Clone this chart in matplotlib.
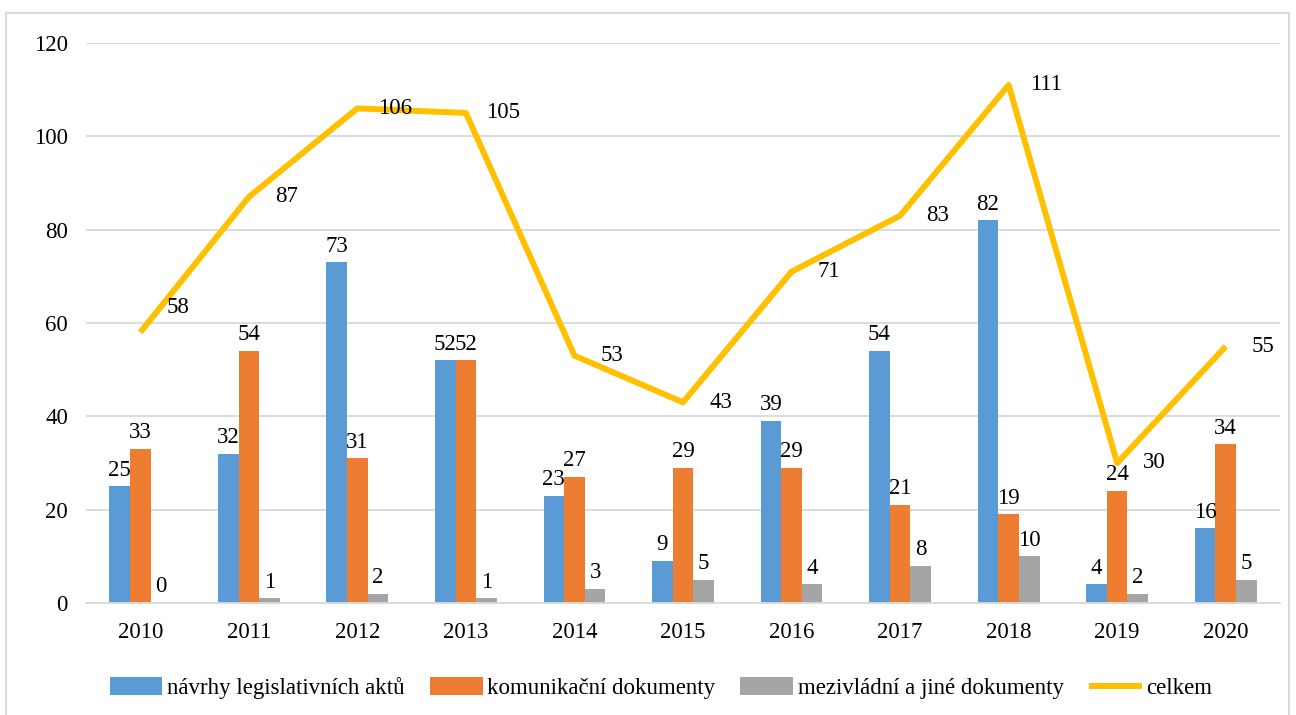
import matplotlib
matplotlib.use("Agg")
import matplotlib.pyplot as plt
import numpy as np
from matplotlib.patches import Rectangle

years = ["2010", "2011", "2012", "2013", "2014", "2015", "2016", "2017", "2018", "2019", "2020"]
legislativni = [25, 32, 73, 52, 23, 9, 39, 54, 82, 4, 16]
komunikacni = [33, 54, 31, 52, 27, 29, 29, 21, 19, 24, 34]
mezivladni = [0, 1, 2, 1, 3, 5, 4, 8, 10, 2, 5]
celkem = [58, 87, 106, 105, 53, 43, 71, 83, 111, 30, 55]

series_names = ["návrhy legislativních aktů", "komunikační dokumenty",
                "mezivládní a jiné dokumenty", "celkem"]

plt.rcParams['font.family'] = ['Liberation Serif', 'DejaVu Serif']
FS = 16.5

fig = plt.figure(figsize=(12.96, 7.15), dpi=100)
# outer chart frame
fig.patches.append(Rectangle((6/1296, -0.01), 1283/1296, 1 - 13/715 + 0.01,
                             transform=fig.transFigure, fill=False,
                             edgecolor="#D9D9D9", linewidth=1.5))

ax = fig.add_axes([86/1296, 1 - 603/715, (1280 - 86)/1296, (603 - 43)/715])
x = np.arange(len(years))
w = 0.19
colors = ["#5B9BD5", "#ED7D31", "#A5A5A5"]
for i, (vals, c) in enumerate(zip([legislativni, komunikacni, mezivladni], colors)):
    pos = x + (i - 1) * w
    ax.bar(pos, vals, width=w, color=c, label=series_names[i], zorder=2)
    for px, v in zip(pos, vals):
        ax.annotate(str(v), (px, v), xytext=(0, 4), textcoords="offset points",
                    ha="center", va="bottom", fontsize=FS, color="#000000", zorder=4)

ax.plot(x, celkem, color="#FFC000", linewidth=4.3, label=series_names[3], zorder=3,
        solid_capstyle="butt")
for i, (px, v) in enumerate(zip(x, celkem)):
    dy = 18 if i == 0 else 0
    ax.annotate(str(v), (px, v), xytext=(27, dy), textcoords="offset points",
                ha="center", va="center", fontsize=FS, color="#000000", zorder=4)

ax.set_xlim(-0.5, len(years) - 0.5)
ax.set_ylim(0, 120)
ax.set_yticks(range(0, 121, 20))
ax.set_xticks(x)
ax.set_xticklabels(years)
ax.yaxis.grid(True, color="#D9D9D9", linewidth=1.3, zorder=0)
ax.set_axisbelow(True)
for s in ["top", "right", "left"]:
    ax.spines[s].set_visible(False)
ax.spines["bottom"].set_color("#D9D9D9")
ax.spines["bottom"].set_linewidth(1.3)
ax.tick_params(axis="both", length=0, labelsize=FS, colors="#000000")
ax.tick_params(axis="y", pad=13)
ax.tick_params(axis="x", pad=14)

handles, labels = ax.get_legend_handles_labels()
order = [1, 2, 3, 0]
leg = fig.legend([handles[i] for i in order], [labels[i] for i in order],
                 loc="center", bbox_to_anchor=(0.51, 1 - 688/715), ncol=4,
                 frameon=False, fontsize=FS, handlelength=2.3, handleheight=0.8,
                 columnspacing=1.1, handletextpad=0.2)

fig.savefig("out.png", dpi=100)
